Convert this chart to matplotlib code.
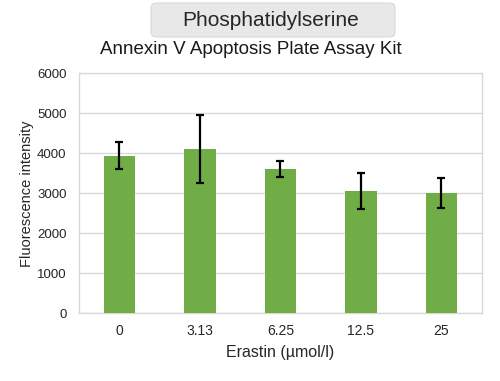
import matplotlib
matplotlib.use("Agg")
import matplotlib.pyplot as plt
from matplotlib.patches import FancyBboxPatch

categories = ["0", "3.13", "6.25", "12.5", "25"]
values = [3940, 4100, 3610, 3050, 3010]
errors = [340, 850, 210, 450, 385]
yticks = [0, 1000, 2000, 3000, 4000, 5000, 6000]

plt.rcParams['font.family'] = ['Liberation Sans', 'DejaVu Sans']

fig = plt.figure(figsize=(5.0, 3.81), dpi=100)
ax = fig.add_axes([79/500, 1-313.3/381, (481.7-79)/500, (313.3-73.3)/381])

x = list(range(len(categories)))
ax.bar(x, values, width=0.39, color="#70AD47", zorder=3)
ax.errorbar(x, values, yerr=errors, fmt='none', ecolor='black', elinewidth=1.6,
            capsize=3, capthick=1.6, zorder=4)

ax.set_xlim(-0.5, len(categories) - 0.5)
ax.set_ylim(0, 6000)
ax.set_yticks(yticks)
ax.set_yticklabels([str(t) for t in yticks], fontsize=9.5, color="#262626")
ax.set_xticks(x)
ax.set_xticklabels(categories, fontsize=10, color="#262626")
ax.tick_params(axis='y', length=0, pad=9)
ax.tick_params(axis='x', length=0, pad=8)
ax.grid(axis='y', color="#d9d9d9", linewidth=1, zorder=0)
for s in ax.spines.values():
    s.set_color("#d9d9d9")
    s.set_linewidth(1)

ax.set_xlabel("Erastin (µmol/l)", fontsize=11.5, color="#262626", labelpad=5)
ax.set_ylabel("Fluorescence intensity", fontsize=10.5, color="#262626", labelpad=2)

box = FancyBboxPatch((151/500, 1-37/381), (395-151)/500, (37-3)/381,
                     boxstyle="round,pad=0,rounding_size=0.012",
                     transform=fig.transFigure, facecolor="#e8e8e8",
                     edgecolor="#d8d8d8", linewidth=0.8)
fig.patches.append(box)
fig.text(271/500, 1-20/381, "Phosphatidylserine", fontsize=15, color="#262626",
         ha='center', va='center')
fig.text(250.5/500, 1-50/381, "Annexin V Apoptosis Plate Assay Kit", fontsize=13.5,
         color="#1a1a1a", ha='center', va='center')

fig.savefig("out.png", dpi=100)
